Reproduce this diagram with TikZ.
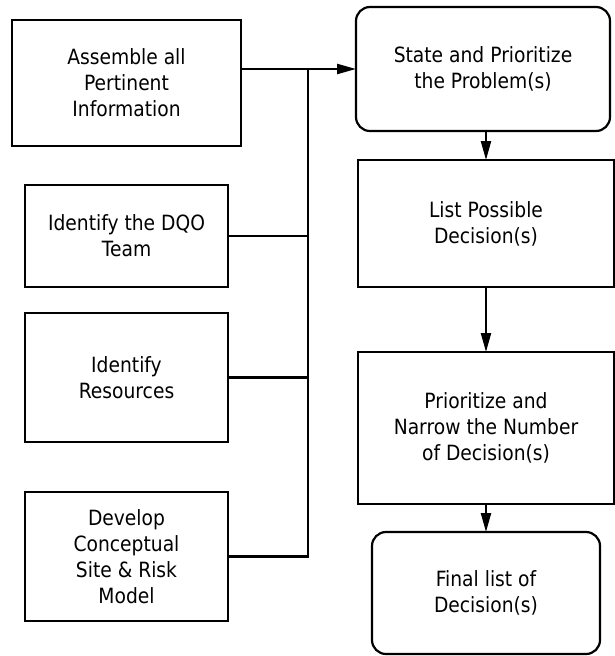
\documentclass[tikz,border=0pt]{standalone}
\usepackage{fontspec}
\setmainfont{DejaVu Sans}[FakeStretch=0.89]
\usepackage{tikz}
\usetikzlibrary{
    arrows.meta,
    positioning
}
\tikzset{
    task/.style={
        rectangle,
        draw=black,
        line width=2.2pt,
        align=center,
        inner sep=0pt,
        outer sep=0pt,
        font=\fontsize{21}{26}\selectfont
    },
    goal/.style={
        task,
        rounded corners=14pt
    },
    link/.style={
        draw=black,
        line width=2.2pt
    },
    arrow/.style={
        link,
        -{Triangle[length=19pt, width=10pt]}
    }
}

\begin{document}
\begin{tikzpicture}[
    x=1pt, y=1pt,
    node distance=26pt
]
    \useasboundingbox (0,0) rectangle (615,-656);

    % Inputs
    \node[task, minimum width=229pt, minimum height=126pt] (assemble) at (126.5,-83) {Assemble all\\Pertinent\\Information};
    \node[task, minimum width=203pt, minimum height=102pt, below=39pt of assemble] (team) {Identify the DQO\\Team};
    \node[task, minimum width=203pt, minimum height=129pt, below=26pt of team] (resources) {Identify\\Resources};
    \node[task, minimum width=203pt, minimum height=129pt, below=50pt of resources] (model) {Develop\\Conceptual\\Site \& Risk\\Model};

    % Decision steps
    \node[goal, minimum width=254pt, minimum height=124pt] (problem) at (483,-69) {State and Prioritize\\the Problem(s)};
    \node[task, minimum width=256pt, minimum height=127pt, below=29pt of problem, xshift=3pt] (decisions) {List Possible\\Decision(s)};
    \node[task, minimum width=256pt, minimum height=152pt, below=65pt of decisions] (narrow) {Prioritize and\\Narrow the Number\\of Decision(s)};
    \node[goal, minimum width=228pt, minimum height=122pt, below=28pt of narrow] (final) {Final list of\\Decision(s)};

    % Connectors
    \coordinate (bus) at (308,-69);
    \draw[arrow] (assemble.east |- problem.west) -- (problem.west);
    \draw[link] (model.east) -| (bus);
    \draw[link] (team.east) -- (team.east -| bus);
    \draw[link] (resources.east) -- (resources.east -| bus);
    \draw[arrow] (problem.south -| decisions.north) -- (decisions.north);
    \draw[arrow] (decisions) -- (narrow);
    \draw[arrow] (narrow) -- (final);
\end{tikzpicture}
\end{document}
